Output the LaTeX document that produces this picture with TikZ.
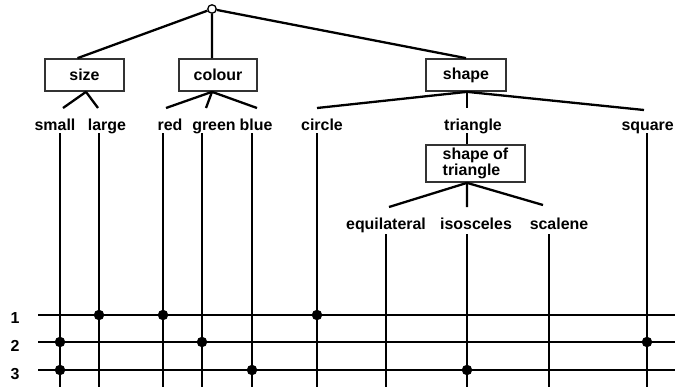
\documentclass[tikz,border=0pt]{standalone}
\usepackage{fontspec}
\setmainfont{Liberation Sans}
\usetikzlibrary{calc}
\begin{document}
\begin{tikzpicture}[x=1bp,y=-1bp,
  every node/.style={font=\fontsize{16}{14}\selectfont\bfseries},
  box/.style={draw=black!80, line width=1.7bp, inner sep=0pt, minimum height=32bp},
  lbl/.style={anchor=base, inner sep=0pt},
  wire/.style={line width=2.3bp},
  dot/.style={circle, fill=black, inner sep=0pt, minimum size=10.5bp},
  ]
\useasboundingbox (0,0) rectangle (675,387);

% boxes
\node[box, minimum width=79bp] (size) at (84.5,75) {size};
\node[box, minimum width=78bp] (colour) at (218,75) {colour};
\node[box, minimum width=80bp] (shape) at (466,75) {shape};
\node[box, minimum width=99bp, minimum height=37bp, align=left] (tri) at (475.5,163.5) {shape of\\triangle};

% root
\node[circle, draw, fill=white, line width=1.3bp, minimum size=8.5bp, inner sep=0pt] (root) at (212,9) {};
\draw[wire] (root) -- ([xshift=-7bp]size.north);
\draw[wire] (root) -- ([xshift=-6bp]colour.north);
\draw[wire] (root) -- (shape.north);

% branch ends
\coordinate (bsmall) at (63,108);
\coordinate (blarge) at (98,108);
\coordinate (bred) at (166,108);
\coordinate (bgreen) at (206,108);
\coordinate (bblue) at (257,108);
\coordinate (bcircle) at (317,108);
\coordinate (btri) at (467,108);
\coordinate (bsquare) at (644,110);
\coordinate (bequi) at (389,207);
\coordinate (biso) at (467,207);
\coordinate (bscal) at (543,205);

\draw[wire] ([xshift=1.5bp]size.south) -- (bsmall);
\draw[wire] ([xshift=1.5bp]size.south) -- (blarge);
\draw[wire] ([xshift=-6bp]colour.south) -- (bred);
\draw[wire] ([xshift=-6bp]colour.south) -- (bgreen);
\draw[wire] ([xshift=-6bp]colour.south) -- (bblue);
\draw[wire] ([xshift=1bp]shape.south) -- (bcircle);
\draw[wire] ([xshift=1bp]shape.south) -- (btri);
\draw[wire] ([xshift=1bp]shape.south) -- (bsquare);
\draw[wire] ([xshift=-8.5bp]tri.south) -- (bequi);
\draw[wire] ([xshift=-8.5bp]tri.south) -- (biso);
\draw[wire] ([xshift=-8.5bp]tri.south) -- (bscal);

% labels
\node[lbl] (small) at (55,130) {small};
\node[lbl] (large) at (107,130) {large};
\node[lbl] (red) at (170,130) {red};
\node[lbl] (green) at (214,130) {green};
\node[lbl] (blue) at (256,130) {blue};
\node[lbl] (circ) at (322,130) {circle};
\node[lbl] (triangle) at (473,130) {triangle};
\node[lbl, anchor=base east] (square) at (674,130) {square};
\node[lbl] (equi) at (386,229) {equilateral};
\node[lbl] (iso) at (476,229) {isosceles};
\node[lbl] (scal) at (559,229) {scalene};

% vertical wires
\coordinate (vsmall) at (60,133);
\coordinate (vlarge) at (99,133);
\coordinate (vred) at (163,133);
\coordinate (vgreen) at (202,133);
\coordinate (vblue) at (252,133);
\coordinate (vcircle) at (317,133);
\coordinate (vtri) at (467,133);
\coordinate (vsquare) at (647,133);
\coordinate (vequi) at (386,234);
\coordinate (viso) at (467,234);
\coordinate (vscal) at (549,234);
\coordinate (bottom) at (0,387);

\foreach \v in {vsmall,vlarge,vred,vgreen,vblue,vcircle,vsquare,vequi,viso,vscal}
  \draw[wire] (\v) -- (\v |- bottom);
\draw[wire] (vtri) -- (vtri |- tri.north);

% rows
\coordinate (r1) at (38,315); \coordinate (r1e) at (675,315);
\coordinate (r2) at (38,342); \coordinate (r2e) at (675,342);
\coordinate (r3) at (38,370); \coordinate (r3e) at (675,370);
\draw[wire] (r1) -- (r1e);
\draw[wire] (r2) -- (r2e);
\draw[wire] (r3) -- (r3e);
\node[lbl] (n1) at (15,323) {1};
\node[lbl] (n2) at (15,351) {2};
\node[lbl] (n3) at (15,379) {3};

% dots
\node[dot] (d1a) at (vlarge |- r1) {};
\node[dot] (d1b) at (vred |- r1) {};
\node[dot] (d1c) at (vcircle |- r1) {};
\node[dot] (d2a) at (vsmall |- r2) {};
\node[dot] (d2b) at (vgreen |- r2) {};
\node[dot] (d2c) at (vsquare |- r2) {};
\node[dot] (d3a) at (vsmall |- r3) {};
\node[dot] (d3b) at (vblue |- r3) {};
\node[dot] (d3c) at (viso |- r3) {};
\end{tikzpicture}
\end{document}
